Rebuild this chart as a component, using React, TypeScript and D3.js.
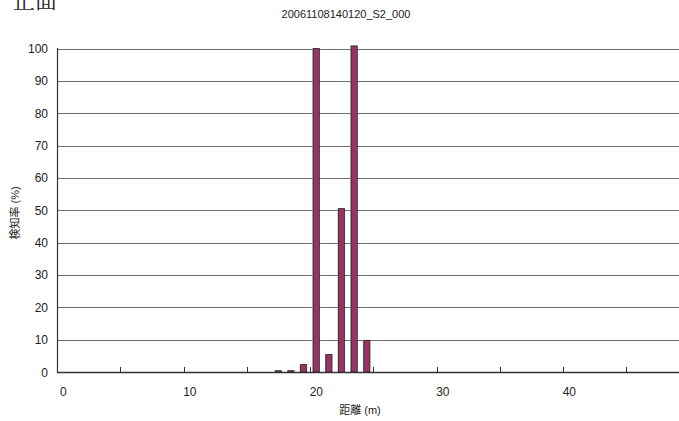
import React from "react";
import * as d3 from "d3";

const categories: number[] = d3.range(0, 50);
const distances: number[] = [17, 18, 19, 20, 21, 22, 23, 24];
const rates: number[] = [0.4, 0.4, 2.3, 100, 5.4, 50.5, 100.8, 9.8];
const yTicks: number[] = [0, 10, 20, 30, 40, 50, 60, 70, 80, 90, 100];
const xTickLabels: number[] = [0, 10, 20, 30, 40];
const xTickMarks: number[] = [4.5, 9.5, 14.5, 19.5, 24.5, 29.5, 34.5, 39.5, 44.5, 49.5];

const W = 679;
const H = 421;

export default function App() {
  const left = 57;
  const unit = 12.65;
  const x = d3
    .scaleBand<number>()
    .domain(categories)
    .range([left, left + unit * categories.length])
    .paddingInner(0.52)
    .paddingOuter(0.26);
  const xc = d3.scaleLinear().domain([-0.5, 49.5]).range([left, left + unit * 50]);
  const y = d3.scaleLinear().domain([0, 100]).range([372, 48.5]);
  const font = "'Liberation Sans', Arial, sans-serif";
  const cjk = "'Liberation Sans', 'Noto Sans CJK JP', sans-serif";

  return (
    <svg
      width={W}
      height={H}
      style={{ position: "fixed", left: 0, top: 0, background: "#fff" }}
    >
      <text x={13} y={8} fontSize={22} fontFamily="'Noto Serif CJK JP', 'Noto Sans CJK JP', serif" fill="#222">
        正面
      </text>
      <text x={346} y={18} fontSize={11} fontFamily={font} textAnchor="middle" fill="#222">
        20061108140120_S2_000
      </text>
      {yTicks.map((t) =>
        t === 0 ? null : (
          <line key={"g" + t} x1={left} x2={W} y1={Math.round(y(t)) + 0.5} y2={Math.round(y(t)) + 0.5} stroke="#6e6e6e" strokeWidth={1} />
        )
      )}
      {yTicks.map((t) => (
        <text key={"yl" + t} x={48} y={y(t) + 4.5} fontSize={12} fontFamily={font} textAnchor="end" fill="#222">
          {t}
        </text>
      ))}
      {distances.map((d, i) => {
        const bx = x(d)!;
        const bw = x.bandwidth();
        const top = y(rates[i]);
        return (
          <g key={"b" + d}>
            <rect x={bx - 1} y={top} width={bw} height={372 - top} fill="#9a9a9a" />
            <rect x={bx} y={top} width={bw} height={372 - top} fill="#993366" stroke="#2a2a2a" strokeWidth={0.8} />
          </g>
        );
      })}
      {xTickMarks.map((t) => (
        <line key={"xt" + t} x1={Math.round(xc(t)) + 0.5} x2={Math.round(xc(t)) + 0.5} y1={372} y2={367} stroke="#333" strokeWidth={1} />
      ))}
      <line x1={left + 0.5} x2={left + 0.5} y1={48} y2={373} stroke="#333" strokeWidth={1.2} />
      <line x1={left} x2={W} y1={372.5} y2={372.5} stroke="#333" strokeWidth={1.4} />
      {xTickLabels.map((t) => (
        <text key={"xl" + t} x={xc(t)} y={396} fontSize={12} fontFamily={font} textAnchor="middle" fill="#222">
          {t}
        </text>
      ))}
      <text x={360} y={414} fontSize={11} fontFamily={cjk} textAnchor="middle" fill="#222">
        距離 (m)
      </text>
      <text
        transform={`translate(19,213) rotate(-90)`}
        fontSize={11}
        fontFamily={cjk}
        textAnchor="middle"
        fill="#222"
      >
        検知率 (%)
      </text>
    </svg>
  );
}
